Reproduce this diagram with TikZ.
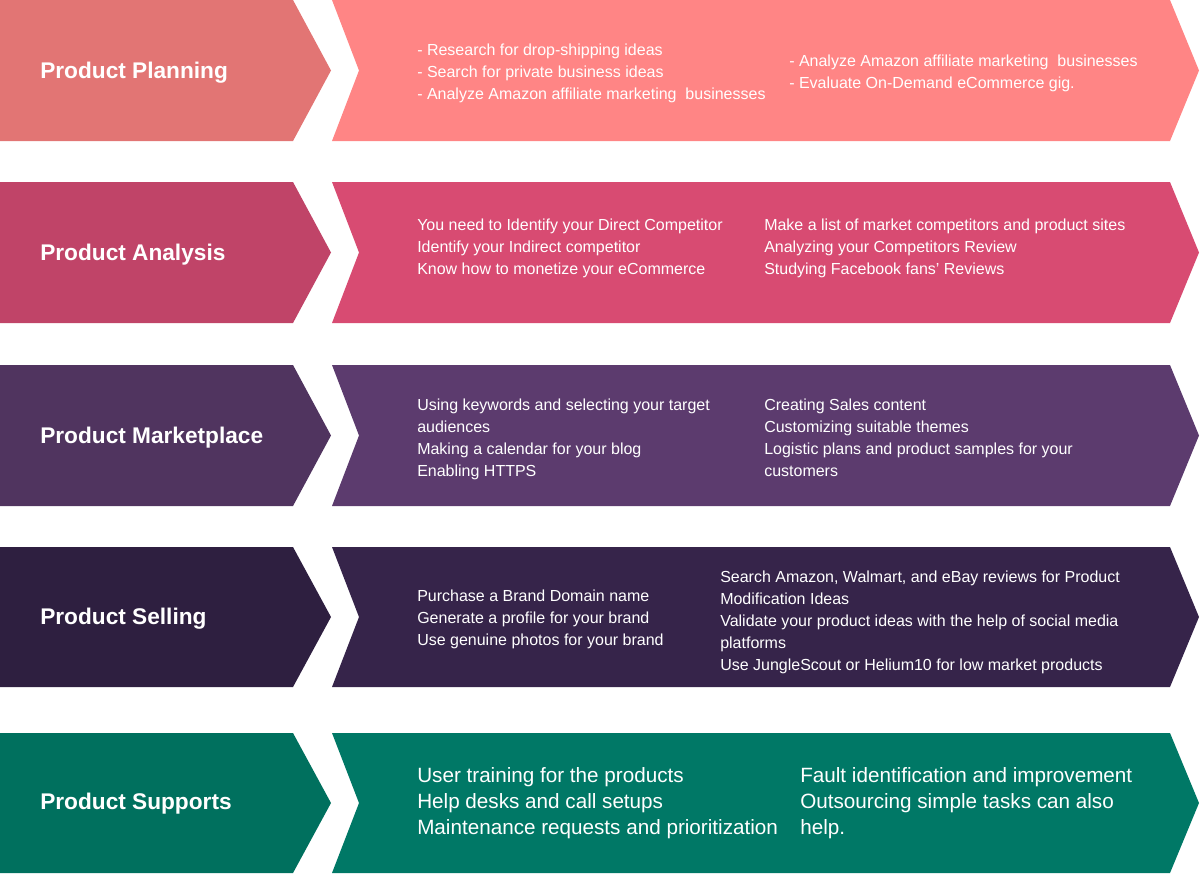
\documentclass[tikz,border=0pt]{standalone}
\usepackage{fontspec}
\setmainfont{Liberation Sans}
\tikzset{
  stagetitle/.style = {anchor = west, inner sep = 0pt, text = white, font = \fontsize{17}{20}\selectfont\bfseries},
  stagenotes/.style = {anchor = west, inner sep = 0pt, text = white, align = left, font = \fontsize{12}{16.5}\selectfont},
  stagenotesbig/.style = {anchor = west, inner sep = 0pt, text = white, align = left, font = \fontsize{15.5}{19.5}\selectfont}
}
\begin{document}
\begin{tikzpicture}[x = 0.75pt, y = -0.75pt]
\useasboundingbox (0, 0) rectangle (1200, 875);
% Product Planning
\definecolor{col}{HTML}{E27574}
\fill[col] (0, 0) -- (293, 0) -- (331, 70.5) -- (293, 141) -- (0, 141) -- cycle;
\definecolor{col}{HTML}{FF8585}
\fill[col] (332, 0) -- (1170, 0) -- (1199, 70.5) -- (1170, 141) -- (332, 141) -- (359, 70.5) -- cycle;
\node[stagetitle] (PlanningTitle) at (40, 72.5) {Product Planning};
\node[stagenotes] (PlanningNotesA) at (417, 73) {- Research for drop-shipping ideas\\- Search for private business ideas\\- Analyze Amazon affiliate marketing~ businesses};
\node[stagenotes] (PlanningNotesB) at (789, 73) {- Analyze Amazon affiliate marketing~ businesses\\- Evaluate On-Demand eCommerce gig.};
% Product Analysis
\definecolor{col}{HTML}{C04468}
\fill[col] (0, 182) -- (293, 182) -- (331, 252.5) -- (293, 323) -- (0, 323) -- cycle;
\definecolor{col}{HTML}{D84B72}
\fill[col] (332, 182) -- (1170, 182) -- (1199, 252.5) -- (1170, 323) -- (332, 323) -- (359, 252.5) -- cycle;
\node[stagetitle] (AnalysisTitle) at (40, 254.5) {Product Analysis};
\node[stagenotes] (AnalysisNotesA) at (417, 248) {You need to Identify your Direct Competitor\\Identify your Indirect competitor\\Know how to monetize your eCommerce};
\node[stagenotes] (AnalysisNotesB) at (764, 248) {Make a list of market competitors and product sites\\Analyzing your Competitors Review\\Studying Facebook fans’ Reviews};
% Product Marketplace
\definecolor{col}{HTML}{50345F}
\fill[col] (0, 365) -- (293, 365) -- (331, 435.5) -- (293, 506) -- (0, 506) -- cycle;
\definecolor{col}{HTML}{5C3B6E}
\fill[col] (332, 365) -- (1170, 365) -- (1199, 435.5) -- (1170, 506) -- (332, 506) -- (359, 435.5) -- cycle;
\node[stagetitle] (MarketplaceTitle) at (40, 437.5) {Product Marketplace};
\node[stagenotes] (MarketplaceNotesA) at (417, 439.5) {Using keywords and selecting your target\\audiences\\Making a calendar for your blog\\Enabling HTTPS};
\node[stagenotes] (MarketplaceNotesB) at (764, 437.5) {Creating Sales content\\Customizing suitable themes\\Logistic plans and product samples for your\\customers};
% Product Selling
\definecolor{col}{HTML}{2E1F40}
\fill[col] (0, 547) -- (293, 547) -- (331, 617) -- (293, 687) -- (0, 687) -- cycle;
\definecolor{col}{HTML}{36244A}
\fill[col] (332, 547) -- (1170, 547) -- (1199, 617) -- (1170, 687) -- (332, 687) -- (359, 617) -- cycle;
\node[stagetitle] (SellingTitle) at (40, 619) {Product Selling};
\node[stagenotes] (SellingNotesA) at (417, 619) {Purchase a Brand Domain name\\Generate a profile for your brand\\Use genuine photos for your brand};
\node[stagenotes] (SellingNotesB) at (720, 622) {Search Amazon, Walmart, and eBay reviews for Product\\Modification Ideas\\Validate your product ideas with the help of social media\\platforms\\Use JungleScout or Helium10 for low market products};
% Product Supports
\definecolor{col}{HTML}{00705E}
\fill[col] (0, 733) -- (293, 733) -- (331, 803) -- (293, 873) -- (0, 873) -- cycle;
\definecolor{col}{HTML}{007866}
\fill[col] (332, 733) -- (1170, 733) -- (1199, 803) -- (1170, 873) -- (332, 873) -- (359, 803) -- cycle;
\node[stagetitle] (SupportsTitle) at (40, 804) {Product Supports};
\node[stagenotesbig] (SupportsNotesA) at (417, 803) {User training for the products\\Help desks and call setups\\Maintenance requests and prioritization};
\node[stagenotesbig] (SupportsNotesB) at (800, 803) {Fault identification and improvement\\Outsourcing simple tasks can also\\help.};
\end{tikzpicture}
\end{document}
